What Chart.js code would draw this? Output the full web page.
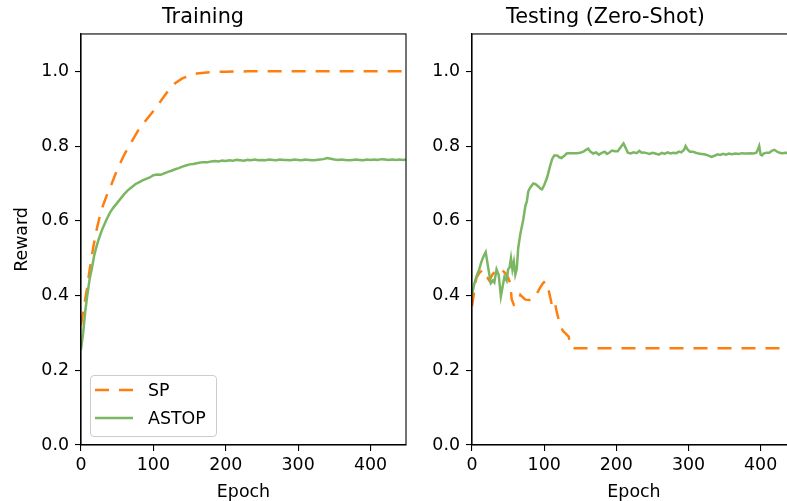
<!DOCTYPE html>
<html><head><meta charset="utf-8">
<script src="https://cdn.jsdelivr.net/npm/chart.js@4/dist/chart.umd.min.js"></script>
<style>
html,body{margin:0;padding:0;background:#fff;overflow:hidden;}
#wrap{position:relative;width:787px;height:501px;overflow:hidden;background:#fff;font-family:"DejaVu Sans",sans-serif;}
#c1{position:absolute;left:0;top:0;}
#c2{position:absolute;left:415px;top:0;}
#legend{position:absolute;left:90px;top:375px;width:125px;height:60px;border:1px solid #cccccc;border-radius:4px;background:rgba(255,255,255,0.8);}
.row{position:absolute;left:0;width:125px;height:20px;line-height:20px;font-size:17.4px;color:#000;white-space:nowrap;}
.row svg{position:absolute;left:4px;top:0;}
.row span{position:absolute;left:57px;top:0;}
</style></head><body>
<div id="wrap">
<canvas id="c2" width="438" height="501"></canvas>
<canvas id="c1" width="487" height="501"></canvas>
<div id="legend"></div>
</div>
<script>
const FONT = '"DejaVu Sans", sans-serif';
const panelTitles = ['Training', 'Testing (Zero-Shot)'];
const seriesNames = ['SP', 'ASTOP'];
const xLabel = 'Epoch';
const yLabel = 'Reward';
const xTicks = [0, 100, 200, 300, 400];
const yTicks = [0, 0.2, 0.4, 0.6, 0.8, 1.0];

// Training, SP
const trainSPEpochs = [0,2,5,8,12,17,22,28,35,42,50,60,70,80,90,100,110,120,130,140,150,160,170,180,200,230,260,300,350,400,449];
const trainSP = [0.32,0.345,0.38,0.415,0.47,0.53,0.58,0.628,0.665,0.697,0.737,0.778,0.812,0.845,0.87,0.894,0.92,0.947,0.968,0.981,0.989,0.994,0.996,0.998,0.999,1.0,1.0,1.0,1.0,1.0,1.0];

// Training, ASTOP
const trainASTOPEpochs = [0,3,6,9,12,15,18,21,24,27,30,35,40,45,50,55,60,65,70,75,80,85,90,95,100,105,110,115,120,125,130,135,140,145,150,155,160,165,170,175,180,185,190,195,200,205,210,215,220,225,230,235,240,245,250,255,260,265,270,275,280,285,290,295,300,305,310,315,320,325,330,335,340,345,350,355,360,365,370,375,380,385,390,395,400,405,410,415,420,425,430,435,440,445,449];
const trainASTOP = [0.255,0.30,0.36,0.405,0.445,0.472,0.505,0.528,0.548,0.565,0.58,0.602,0.622,0.636,0.648,0.66,0.672,0.682,0.69,0.698,0.703,0.708,0.712,0.716,0.722,0.724,0.723,0.727,0.731,0.734,0.738,0.741,0.745,0.748,0.751,0.752,0.754,0.756,0.757,0.757,0.759,0.760,0.759,0.761,0.760,0.762,0.761,0.763,0.762,0.761,0.763,0.762,0.764,0.762,0.763,0.762,0.764,0.763,0.762,0.764,0.763,0.763,0.762,0.764,0.763,0.762,0.764,0.763,0.762,0.763,0.764,0.765,0.768,0.766,0.764,0.763,0.764,0.763,0.762,0.763,0.764,0.763,0.762,0.764,0.763,0.764,0.763,0.765,0.764,0.763,0.764,0.763,0.764,0.763,0.764];

// Testing, SP
const testSPEpochs = [0,3,6,10,15,18,21,24,28,32,37,42,46,50,53,55,58,62,65,67,70,74,80,85,88,94,98,101,104,106,109,111,113,115,117,119,122,126,130,134,136,138,142,200,300,400,449];
const testSP = [0.371,0.41,0.447,0.46,0.469,0.455,0.449,0.44,0.455,0.465,0.472,0.468,0.46,0.448,0.433,0.39,0.375,0.378,0.39,0.402,0.396,0.389,0.388,0.392,0.398,0.42,0.432,0.438,0.43,0.416,0.39,0.37,0.378,0.38,0.36,0.344,0.322,0.305,0.298,0.29,0.27,0.262,0.259,0.259,0.259,0.259,0.259];

// Testing, ASTOP
const testASTOPEpochs = [0,3,6,10,13,16,19,22,26,29,31,34,37,40,43,45,48,50,52,54,56,58,60,62,64,67,71,74,76,78,81,85,88,92,95,97,100,104,108,111,114,118,121,124,128,131,135,140,145,150,155,158,161,164,168,172,176,180,184,187,190,194,198,202,206,210,213,216,220,224,228,232,235,238,242,246,250,254,259,263,267,271,275,279,283,287,290,294,296,299,302,306,310,314,318,322,327,332,336,340,344,348,352,356,360,365,370,374,378,382,386,390,394,396,398,400,402,404,408,412,416,419,422,426,430,435,440,445,449];
const testASTOP = [0.402,0.43,0.45,0.47,0.49,0.505,0.516,0.48,0.433,0.44,0.435,0.47,0.455,0.398,0.43,0.45,0.44,0.47,0.475,0.50,0.47,0.49,0.456,0.47,0.527,0.565,0.603,0.64,0.652,0.679,0.69,0.70,0.698,0.692,0.686,0.684,0.695,0.715,0.745,0.765,0.775,0.775,0.77,0.768,0.774,0.78,0.781,0.781,0.781,0.782,0.786,0.79,0.793,0.785,0.78,0.783,0.777,0.782,0.785,0.779,0.782,0.788,0.786,0.786,0.797,0.807,0.795,0.782,0.78,0.783,0.781,0.787,0.782,0.783,0.781,0.779,0.782,0.78,0.777,0.782,0.779,0.783,0.78,0.782,0.781,0.785,0.783,0.79,0.80,0.79,0.785,0.785,0.782,0.78,0.779,0.778,0.775,0.771,0.774,0.778,0.776,0.779,0.777,0.78,0.778,0.78,0.779,0.781,0.78,0.78,0.781,0.78,0.782,0.79,0.80,0.777,0.775,0.78,0.782,0.782,0.788,0.79,0.786,0.782,0.781,0.782,0.781,0.782,0.782];

const COLORS = { SP: '#ff7f0e', ASTOP: '#7bb662' };
const DASH = [14, 10];

function pts(xs, ys) { return xs.map((x, i) => ({ x: x, y: ys[i] })); }

function makeDatasets(spX, spY, asX, asY) {
  return [
    { label: seriesNames[0], data: pts(spX, spY), borderColor: COLORS.SP, borderWidth: 2.5, borderDash: DASH, fill: false, order: 1 },
    { label: seriesNames[1], data: pts(asX, asY), borderColor: COLORS.ASTOP, borderWidth: 2.5, fill: false, order: 0 }
  ];
}

const framePlugin = {
  id: 'frame',
  afterDraw(chart) {
    const { ctx, chartArea: a } = chart;
    ctx.save();
    ctx.strokeStyle = '#000';
    ctx.lineWidth = 1.1;
    ctx.strokeRect(a.left, a.top, a.right - a.left, a.bottom - a.top);
    ctx.restore();
  }
};

function axisCommon() {
  return {
    grid: { drawOnChartArea: false, drawTicks: true, tickLength: 6, color: '#000', lineWidth: 1.1 },
    border: { display: true, color: '#000', width: 1.1 }
  };
}

function makeChart(canvas, title, datasets, yAxisWidth, rightPad, showYTitle) {
  return new Chart(canvas, {
    type: 'line',
    data: { datasets: datasets },
    options: {
      responsive: false,
      animation: false,
      devicePixelRatio: 1,
      layout: { padding: { left: 0, right: rightPad, top: 0, bottom: 0 } },
      plugins: {
        legend: { display: false },
        tooltip: { enabled: false },
        title: { display: true, text: title, color: '#000',
          font: { family: FONT, size: 20.8, weight: 'normal', lineHeight: 1.2 },
          padding: { top: 5, bottom: 4 } }
      },
      elements: { point: { radius: 0 }, line: { tension: 0 } },
      scales: {
        x: Object.assign(axisCommon(), {
          type: 'linear', min: 0, max: 449,
          afterFit(s) { s.height = 56; },
          afterBuildTicks(s) { s.ticks = xTicks.map(v => ({ value: v })); },
          ticks: { color: '#000', padding: 4, maxRotation: 0, autoSkip: false,
            font: { family: FONT, size: 17.4, lineHeight: 1.2 },
            callback: v => String(v) },
          title: { display: true, text: xLabel, color: '#000',
            font: { family: FONT, size: 17.4, lineHeight: 1 }, padding: { top: 0, bottom: 0 } }
        }),
        y: Object.assign(axisCommon(), {
          type: 'linear', min: 0, max: 1.1,
          afterFit(s) { s.width = yAxisWidth; },
          afterBuildTicks(s) { s.ticks = yTicks.map(v => ({ value: v })); },
          ticks: { color: '#000', padding: 6,
            font: { family: FONT, size: 17.4, lineHeight: 1.2 },
            callback: v => Number(v).toFixed(1) },
          title: { display: showYTitle, text: yLabel, color: '#000',
            font: { family: FONT, size: 17.4, lineHeight: 1 }, padding: { top: 14, bottom: 0 } }
        })
      }
    },
    plugins: [framePlugin]
  });
}

// canvas widths chosen so that each title is centred over its plot area
makeChart(document.getElementById('c1'), panelTitles[0],
  makeDatasets(trainSPEpochs, trainSP, trainASTOPEpochs, trainASTOP), 81, 81, true);
makeChart(document.getElementById('c2'), panelTitles[1],
  makeDatasets(testSPEpochs, testSP, testASTOPEpochs, testASTOP), 57, 57, false);

// legend (HTML, real text)
const legend = document.getElementById('legend');
const rowTops = [3.5, 31.8];
seriesNames.forEach((name, i) => {
  const row = document.createElement('div');
  row.className = 'row';
  row.style.top = rowTops[i] + 'px';
  const dash = name === 'SP' ? ' stroke-dasharray="' + DASH.join(' ') + '"' : '';
  const w = 2.5;
  row.innerHTML = '<svg width="40" height="20"><line x1="0" y1="10" x2="38" y2="10" stroke="' + COLORS[name] + '" stroke-width="' + w + '"' + dash + '/></svg><span>' + name + '</span>';
  legend.appendChild(row);
});
</script>
</body></html>
